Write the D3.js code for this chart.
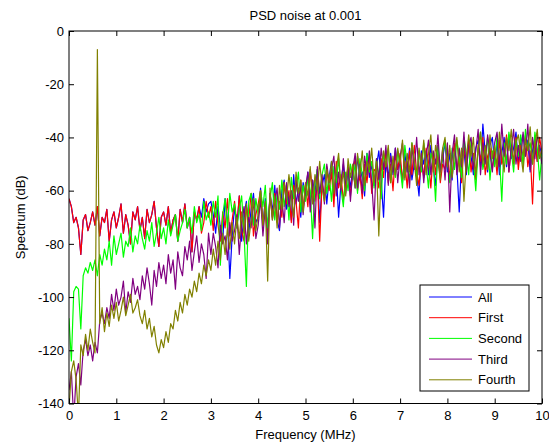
<!DOCTYPE html>
<html>
<head>
<meta charset="utf-8">
<script src="https://cdnjs.cloudflare.com/ajax/libs/d3/7.8.5/d3.min.js"></script>
<style>
  body { margin: 0; background: #fff; }
  text { font-family: "Liberation Sans", Arial, sans-serif; }
</style>
</head>
<body>
<div id="chart"></div>
<script>
//samples are every 0.05 MHz from 0 to 10//
var step = 0.05;

//First user (red)//
var first = [
  -63, -66, -72, -70, -74, -84, -71, -69, -75, -72,
  -68, -73, -66, -77, -70, -72, -67, -79, -71, -68,
  -74, -70, -65, -76, -69, -73, -80, -68, -71, -66,
  -75, -70, -78, -67, -72, -69, -64, -74, -81, -70,
  -68, -73, -66, -76, -71, -69, -79, -67, -72, -65,
  -74, -70, -83, -68, -71, -66, -76, -72, -64, -70,
  -66, -75, -64, -73, -79, -68, -74, -63, -77, -71,
  -64, -73, -62, -75, -79, -66, -71, -61, -77, -69,
  -65, -60, -73, -67, -77, -62, -70, -61, -72, -64,
  -70, -57, -65, -60, -72, -58, -64, -74, -56, -67,
  -58, -66, -52, -61, -64, -55, -79, -57, -63, -51,
  -60, -53, -66, -49, -59, -54, -64, -56, -51, -62,
  -53, -48, -60, -54, -63, -50, -57, -47, -61, -52,
  -53, -59, -48, -55, -45, -57, -50, -60, -46, -52,
  -46, -56, -49, -59, -45, -54, -43, -53, -58, -48,
  -55, -44, -49, -59, -46, -54, -43, -57, -50, -52,
  -44, -55, -48, -42, -53, -46, -57, -43, -51, -41,
  -53, -46, -56, -43, -49, -40, -54, -47, -44, -52,
  -45, -54, -41, -50, -47, -39, -53, -44, -49, -40,
  -52, -43, -47, -39, -51, -45, -65, -41, -49, -40,
  -46
];

//All users (blue) - hidden under red below 2.8 MHz, so same values there//
var all = first.slice(0, 56).concat([
  -70, -63, -68, -65,
  -64, -69, -76, -66, -74, -79, -63, -71, -93, -77,
  -66, -74, -62, -79, -69, -64, -76, -67, -61, -72,
  -70, -59, -73, -63, -77, -61, -68, -58, -71, -75,
  -60, -56, -67, -62, -71, -54, -65, -59, -70, -57,
  -62, -53, -64, -56, -61, -52, -72, -58, -54, -65,
  -55, -49, -62, -53, -70, -57, -50, -61, -52, -59,
  -51, -59, -47, -56, -53, -62, -46, -55, -50, -58,
  -51, -45, -56, -70, -49, -55, -46, -54, -44, -52,
  -49, -57, -46, -53, -44, -56, -50, -54, -62, -45,
  -50, -45, -54, -43, -51, -58, -46, -53, -48, -42,
  -53, -46, -56, -44, -51, -68, -48, -45, -54, -42,
  -47, -54, -44, -41, -51, -35, -46, -53, -43, -40,
  -50, -42, -54, -46, -40, -51, -39, -48, -44, -38,
  -50, -42, -39, -47, -41, -53, -45, -40, -49, -43,
  -47
]);

//Second user (green)//
var second = [
  -108, -124, -98, -96, -97, -112, -92, -89, -91, -87,
  -90, -86, -92, -84, -88, -82, -86, -79, -88, -77,
  -84, -80, -76, -85, -79, -81, -74, -83, -77, -80,
  -73, -78, -82, -75, -79, -72, -81, -76, -70, -78,
  -74, -80, -71, -77, -73, -69, -79, -75, -72, -67,
  -74, -70, -76, -66, -72, -69, -75, -64, -71, -68,
  -73, -64, -70, -62, -88, -69, -63, -74, -61, -68,
  -65, -74, -67, -62, -76, -96, -64, -61, -73, -63,
  -69, -60, -66, -58, -74, -63, -57, -71, -61, -67,
  -56, -66, -59, -71, -55, -63, -60, -53, -68, -58,
  -64, -55, -60, -78, -57, -52, -63, -54, -50, -61,
  -54, -64, -51, -57, -48, -59, -66, -53, -60, -50,
  -56, -50, -61, -48, -54, -60, -46, -53, -49, -59,
  -48, -54, -63, -46, -51, -44, -57, -49, -55, -45,
  -51, -59, -43, -50, -56, -42, -49, -55, -45, -53,
  -42, -50, -59, -46, -49, -64, -43, -53, -47, -41,
  -49, -57, -44, -52, -41, -47, -55, -40, -46, -54,
  -41, -49, -60, -44, -38, -52, -47, -40, -56, -45,
  -51, -39, -47, -64, -42, -50, -38, -45, -53, -41,
  -47, -39, -51, -37, -45, -42, -50, -38, -44, -56,
  -46
];

//Third user (purple)//
var third = [
  -135, -128, -146, -130, -125, -133, -120, -116, -122, -118,
  -124, -117, -121, -109, -106, -110, -104, -108, -99, -105,
  -97, -103, -100, -94, -106, -98, -102, -93, -99, -96,
  -101, -92, -97, -89, -95, -103, -90, -96, -87, -93,
  -88, -95, -84, -91, -86, -97, -83, -89, -92, -81,
  -86, -79, -90, -83, -77, -87, -80, -84, -93, -76,
  -84, -76, -81, -89, -73, -80, -77, -86, -72, -79,
  -75, -69, -84, -72, -66, -80, -70, -74, -63, -78,
  -73, -63, -77, -66, -80, -61, -71, -64, -59, -74,
  -63, -72, -57, -66, -60, -73, -55, -64, -58, -69,
  -59, -53, -68, -56, -74, -51, -61, -54, -65, -50,
  -57, -52, -47, -62, -53, -60, -48, -59, -51, -64,
  -52, -46, -59, -50, -61, -47, -54, -45, -57, -71,
  -48, -56, -44, -52, -43, -58, -47, -53, -44, -57,
  -47, -42, -55, -49, -59, -43, -52, -40, -54, -46,
  -57, -47, -41, -54, -45, -50, -39, -53, -44, -56,
  -42, -68, -46, -39, -54, -44, -51, -38, -53, -43,
  -40, -52, -45, -37, -54, -42, -50, -39, -46, -53,
  -42, -38, -51, -35, -47, -40, -53, -44, -37, -50,
  -43, -49, -38, -47, -35, -52, -40, -48, -39, -45,
  -50
];

//Fourth user (olive) - has the big tone near 0.6 MHz//
var fourth = [
  -142, -128, -124, -131, -145, -118, -122, -114, -120, -112,
  -117, -121, -7, -110, -104, -113, -106, -111, -103, -108,
  -102, -109, -105, -100, -107, -103, -99, -106, -104, -101,
  -107, -110, -105, -112, -108, -115, -111, -118, -121, -116,
  -119, -113, -117, -110, -112, -105, -109, -102, -106, -99,
  -103, -97, -100, -94, -98, -91, -95, -88, -92, -86,
  -90, -82, -88, -79, -86, -76, -84, -74, -82, -72,
  -80, -70, -78, -68, -76, -65, -79, -71, -63, -75,
  -69, -60, -73, -64, -94, -59, -71, -62, -74, -58,
  -67, -57, -63, -54, -62, -70, -53, -61, -56, -68,
  -57, -62, -51, -65, -54, -60, -49, -59, -64, -52,
  -57, -49, -61, -52, -46, -59, -53, -62, -48, -55,
  -50, -59, -46, -54, -45, -58, -49, -52, -44, -57,
  -49, -77, -53, -45, -51, -43, -57, -47, -54, -44,
  -50, -41, -56, -46, -53, -42, -49, -58, -44, -51,
  -41, -54, -46, -39, -53, -43, -49, -56, -44, -40,
  -51, -43, -55, -46, -40, -53, -44, -64, -48, -39,
  -47, -40, -54, -45, -38, -50, -43, -52, -39, -48,
  -43, -51, -38, -46, -53, -40, -45, -37, -50, -42,
  -39, -46, -53, -41, -45, -36, -50, -43, -37, -48,
  -44
];

var seriesNames = ["All", "First", "Second", "Third", "Fourth"];
var seriesColors = ["#0000ff", "#ff0000", "#00ff00", "#800080", "#808000"];
var seriesValues = [all, first, second, third, fourth];

var xTicks = [0, 1, 2, 3, 4, 5, 6, 7, 8, 9, 10];
var yTicks = [0, -20, -40, -60, -80, -100, -120, -140];

//svg element parameters (plotX0 etc, "top" is taken by window)//
var w = 549;
var h = 443;
var plotX0 = 69, plotX1 = 542, plotY0 = 31, plotY1 = 403.5;

var svg = d3.select("#chart")
  .append("svg")
  .attr("width", w)
  .attr("height", h);

var x = d3.scaleLinear().domain([0, 10]).range([plotX0, plotX1]);
var y = d3.scaleLinear().domain([-140, 0]).range([plotY1, plotY0]);

svg.append("clipPath")
  .attr("id", "plotClip")
  .append("rect")
  .attr("x", plotX0)
  .attr("y", plotY0)
  .attr("width", plotX1 - plotX0)
  .attr("height", plotY1 - plotY0);

//one line per user, drawn in order so olive ends up on top//
var line = d3.line()
  .x(function(d, i) { return x(i * step); })
  .y(function(d) { return y(d); });

svg.append("g")
  .attr("clip-path", "url(#plotClip)")
  .selectAll("path")
  .data(seriesValues)
  .enter()
  .append("path")
  .attr("d", line)
  .attr("fill", "none")
  .attr("stroke", function(d, i) { return seriesColors[i]; })
  .attr("stroke-width", 1.2)
  .attr("stroke-linejoin", "round");

//axes with ticks pointing inwards, matlab style//
function plainNum(d) { return String(d); }

svg.append("g")
  .attr("transform", "translate(0," + plotY1 + ")")
  .call(d3.axisBottom(x).tickValues(xTicks).tickFormat(plainNum).tickSizeInner(-5).tickSizeOuter(0).tickPadding(7));
svg.append("g")
  .attr("transform", "translate(0," + plotY0 + ")")
  .call(d3.axisTop(x).tickValues(xTicks).tickFormat("").tickSizeInner(-5).tickSizeOuter(0));
svg.append("g")
  .attr("transform", "translate(" + plotX0 + ",0)")
  .call(d3.axisLeft(y).tickValues(yTicks).tickFormat(plainNum).tickSizeInner(-5).tickSizeOuter(0).tickPadding(5));
svg.append("g")
  .attr("transform", "translate(" + plotX1 + ",0)")
  .call(d3.axisRight(y).tickValues(yTicks).tickFormat("").tickSizeInner(-5).tickSizeOuter(0));

svg.selectAll(".domain").remove();
svg.selectAll(".tick line").attr("stroke", "#000");
svg.selectAll(".tick text")
  .attr("fill", "#000")
  .attr("font-size", "13px")
  .attr("font-family", "Liberation Sans, Arial, sans-serif");

svg.append("rect")
  .attr("x", plotX0)
  .attr("y", plotY0)
  .attr("width", plotX1 - plotX0)
  .attr("height", plotY1 - plotY0)
  .attr("fill", "none")
  .attr("stroke", "#000")
  .attr("stroke-width", 1);

//titles//
svg.append("text")
  .attr("x", (plotX0 + plotX1) / 2)
  .attr("y", 20)
  .attr("text-anchor", "middle")
  .attr("font-size", "13px")
  .text("PSD noise at 0.001");

svg.append("text")
  .attr("x", (plotX0 + plotX1) / 2)
  .attr("y", 439)
  .attr("text-anchor", "middle")
  .attr("font-size", "13px")
  .text("Frequency (MHz)");

svg.append("text")
  .attr("transform", "translate(25," + (plotY0 + plotY1) / 2 + ") rotate(-90)")
  .attr("text-anchor", "middle")
  .attr("font-size", "13px")
  .text("Spectrum (dB)");

//legend box//
var legend = svg.append("g");
legend.append("rect")
  .attr("x", 420)
  .attr("y", 285)
  .attr("width", 109)
  .attr("height", 106)
  .attr("fill", "#fff")
  .attr("stroke", "#000");

var rows = legend.selectAll("g.row")
  .data(seriesNames)
  .enter()
  .append("g")
  .attr("class", "row")
  .attr("transform", function(d, i) { return "translate(0," + (297 + i * 20.7) + ")"; });

rows.append("line")
  .attr("x1", 429)
  .attr("x2", 472)
  .attr("stroke", function(d, i) { return seriesColors[i]; });

rows.append("text")
  .attr("x", 478)
  .attr("y", 4.5)
  .attr("font-size", "13px")
  .text(function(d) { return d; });
</script>
</body>
</html>
